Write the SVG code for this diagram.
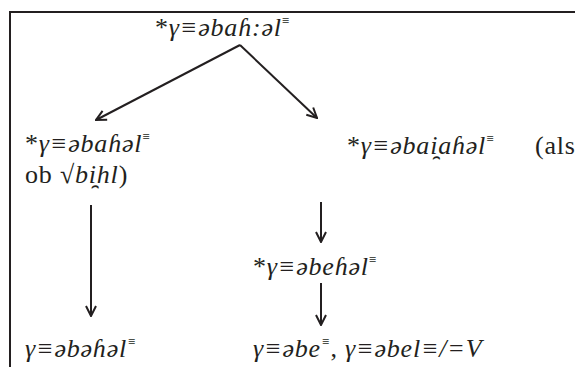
<svg xmlns="http://www.w3.org/2000/svg" width="575" height="367" viewBox="0 0 575 367">
<defs>
<style>
.i{font-style:italic}
.sup{font-size:13px}
.ln{stroke:#231f20;stroke-width:2;fill:none}
</style>
<marker id="ah" viewBox="0 0 12 12" refX="11" refY="6" markerWidth="12" markerHeight="12" markerUnits="userSpaceOnUse" orient="auto">
<path d="M1,1 L11,6 L1,11" fill="none" stroke="#231f20" stroke-width="2"/>
</marker>
</defs>
<rect width="575" height="367" fill="#ffffff"/>
<g id="frame">
<path class="ln" d="M10,367 V12 H575" stroke-width="2.5"/>
</g>
<g id="connectors">
<line class="ln" x1="240" y1="45" x2="96" y2="120" marker-end="url(#ah)"/>
<line class="ln" x1="240" y1="45" x2="317" y2="118" marker-end="url(#ah)"/>
<line class="ln" x1="91" y1="205" x2="91" y2="316" marker-end="url(#ah)"/>
<line class="ln" x1="321" y1="202" x2="321" y2="242" marker-end="url(#ah)"/>
<line class="ln" x1="321" y1="283" x2="321" y2="325" marker-end="url(#ah)"/>
</g>
<g font-family="Liberation Serif, serif" font-size="26" letter-spacing="0.8" fill="#231f20">
<g id="n-root">
<text x="155" y="36">*<tspan class="i">γ≡əbaɦ:əl</tspan><tspan class="sup" dy="-11">≡</tspan></text>
</g>
<g id="n-left">
<text x="25" y="152">*<tspan class="i">γ≡əbaɦəl</tspan><tspan class="sup" dy="-11">≡</tspan></text>
<text x="25" y="183">ob √<tspan class="i">bi̯hl</tspan>)</text>
</g>
<g id="n-right">
<text x="347" y="154">*<tspan class="i">γ≡əbai̯aɦəl</tspan><tspan class="sup" dy="-11">≡</tspan></text>
<text x="535" y="154">(als</text>
</g>
<g id="n-mid">
<text x="253" y="275">*<tspan class="i">γ≡əbeɦəl</tspan><tspan class="sup" dy="-11">≡</tspan></text>
</g>
<g id="n-bl">
<text class="i" x="25" y="357">γ≡əbəɦəl<tspan class="sup" dy="-11">≡</tspan></text>
</g>
<g id="n-br">
<text class="i" x="253" y="357">γ≡əbe<tspan class="sup" dy="-11">≡</tspan><tspan dy="11" font-style="normal">, </tspan>γ≡əbel≡/=V</text>
</g>
</g>
</svg>
